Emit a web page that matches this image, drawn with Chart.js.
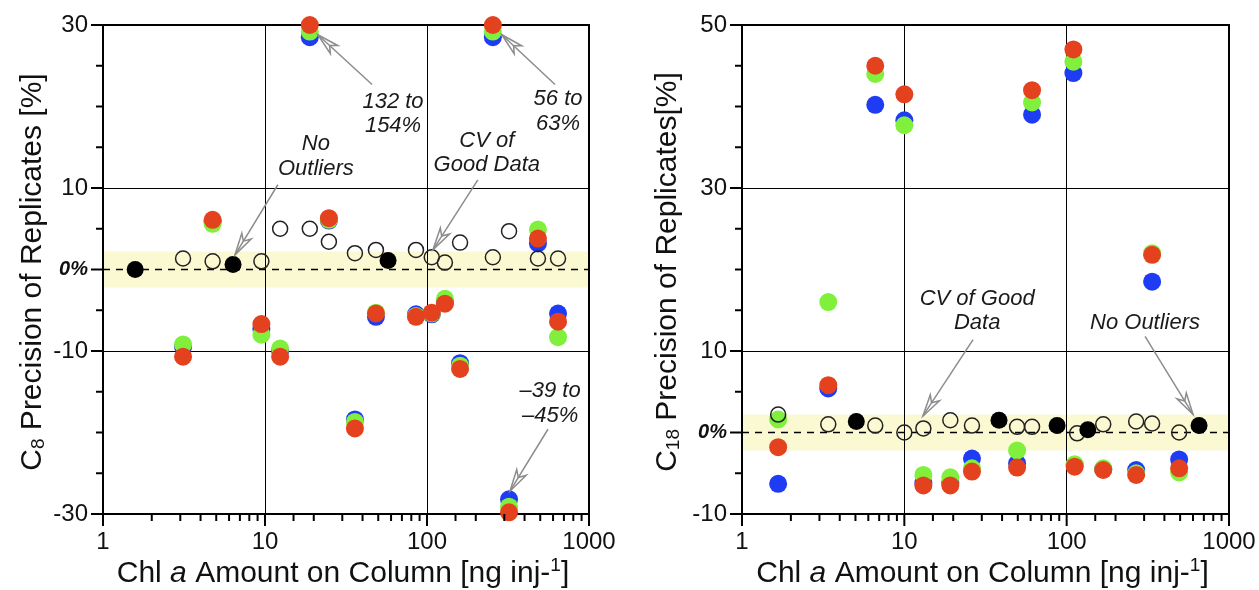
<!DOCTYPE html>
<html>
<head>
<meta charset="utf-8">
<title>Precision of replicates</title>
<script src="https://cdn.jsdelivr.net/npm/chart.js@4.4.1/dist/chart.umd.min.js"></script>
<style>
  body { margin: 0; background: #fff; overflow: hidden; }
  #wrap { position: relative; width: 1259px; height: 590px; }
  canvas { position: absolute; top: 0; }
  #c8Chart { left: 0; }
  #c18Chart { left: 630px; }
</style>
</head>
<body>
<div id="wrap">
  <canvas id="c8Chart" width="630" height="590"></canvas>
  <canvas id="c18Chart" width="629" height="590"></canvas>
</div>
<script>
const FONT = '"Liberation Sans", Arial, Helvetica, sans-serif';
const BLUE = "#1f3cf5";
const GREEN = "#80f03c";
const RED = "#e4421f";

// x tick labels (log axis, decades only)
const amountTicks = [1, 10, 100, 1000];

// C8 panel: replicates with outliers (blue / green / red)
const c8Amount = [3.12, 4.75, 9.5, 12.4, 18.9, 24.8, 35.9, 48.4, 85.5, 107, 129, 160, 255, 321, 484, 644];
const c8Blue  = [-9.5, 5.9, -7.3, -10.0, 28.5, 6.0, -18.4, -5.8, -5.5, -5.5, -4.0, -11.5, 28.5, -28.2, 3.2, -5.4];
const c8Green = [-9.2, 5.6, -8.0, -9.7, 29.2, 6.1, -18.7, -5.3, -5.7, -5.4, -3.6, -11.8, 29.2, -29.1, 4.9, -8.3];
const c8Red   = [-10.7, 6.1, -6.7, -10.7, 30.0, 6.3, -19.5, -5.4, -5.8, -5.3, -4.2, -12.2, 30.0, -29.8, 3.8, -6.4];
// CV of good data (open circles)
const c8Good = [1.35, 1.0, 1.0, 5.0, 5.0, 3.4, 2.0, 2.4, 2.4, 1.5, 0.85, 3.3, 1.5, 4.7, 1.35, 1.35];
// no outliers (filled black)
const c8CleanAmount = [1.58, 6.35, 57.5];
const c8Clean = [0.0, 0.6, 1.1];

// C18 panel
const c18Amount = [1.67, 3.4, 6.62, 10, 13.1, 19.2, 26.1, 49.5, 61.2, 110, 112, 168, 268, 336, 493];
const c18Blue  = [-6.3, 5.4, 40.2, 38.3, -6.2, -6.2, -3.2, -3.8, 39.0, 44.1, -4.0, -4.5, -4.6, 18.5, -3.3];
const c18Green = [1.6, 16.0, 44.0, 37.7, -5.2, -5.5, -4.4, -2.2, 40.5, 45.5, -3.9, -4.4, -5.0, 22.0, -4.9];
const c18Red   = [-1.8, 5.8, 45.0, 41.5, -6.5, -6.5, -4.8, -4.3, 42.0, 47.0, -4.2, -4.6, -5.2, 21.8, -4.4];
const c18GoodAmount = [1.67, 3.4, 6.62, 10, 13.1, 19.2, 26.1, 49.5, 61.2, 116, 168, 268, 336, 493];
const c18Good = [2.2, 1.0, 0.85, 0.0, 0.5, 1.5, 0.85, 0.7, 0.7, -0.1, 1.0, 1.35, 1.1, 0.0];
const c18CleanAmount = [5.06, 38.3, 87.3, 135, 654];
const c18Clean = [1.35, 1.5, 0.85, 0.35, 0.85];

const bandHalf = 2.2; // +/- range of the yellow band

function pts(xs, ys) {
    return xs.map((x, i) => ({ x: x, y: ys[i] }));
}

function makeDatasets(amount, blue, green, red, goodAmount, good, cleanAmount, clean) {
    // dataset 0 is drawn on top
    return [
        { label: "No outliers", data: pts(cleanAmount, clean), pointRadius: 8.5, backgroundColor: "#000", borderWidth: 0 },
        { label: "CV of good data", data: pts(goodAmount, good), pointRadius: 7.5, backgroundColor: "rgba(0,0,0,0)", borderColor: "#222", borderWidth: 1.5 },
        { label: "Replicate 3", data: pts(amount, red), pointRadius: 9, backgroundColor: RED, borderWidth: 0 },
        { label: "Replicate 2", data: pts(amount, green), pointRadius: 9, backgroundColor: GREEN, borderWidth: 0 },
        { label: "Replicate 1", data: pts(amount, blue), pointRadius: 9, backgroundColor: BLUE, borderWidth: 0 },
    ].map(d => Object.assign({ clip: false, showLine: false }, d));
}

function richWidth(ctx, parts) {
    let w = 0;
    parts.forEach(p => { ctx.font = p.font; w += ctx.measureText(p.text).width; });
    return w;
}

function drawRich(ctx, parts, x, y) {
    ctx.textAlign = "left";
    let cx = x - richWidth(ctx, parts) / 2;
    parts.forEach(p => {
        ctx.font = p.font;
        ctx.fillText(p.text, cx, y + (p.dy || 0));
        cx += ctx.measureText(p.text).width;
    });
}

function drawArrow(ctx, x1, y1, x2, y2) {
    const ang = Math.atan2(y2 - y1, x2 - x1);
    const c = Math.cos(ang), s = Math.sin(ang);
    const L = 22, W = 5.5;
    ctx.beginPath();
    ctx.moveTo(x1, y1);
    ctx.lineTo(x2, y2);
    ctx.stroke();
    const bx = x2 - L * c, by = y2 - L * s;
    ctx.beginPath();
    ctx.moveTo(x2, y2);
    ctx.lineTo(bx - W * s, by + W * c);
    ctx.lineTo(bx + 6 * c, by + 6 * s);
    ctx.lineTo(bx + W * s, by - W * c);
    ctx.closePath();
    ctx.stroke();
}

const decor = {
    id: "decor",
    beforeDraw(chart) {
        const { ctx, chartArea: a, scales: { y } } = chart;
        ctx.save();
        ctx.fillStyle = "#fbf9d2";
        const top = y.getPixelForValue(bandHalf), bot = y.getPixelForValue(-bandHalf);
        ctx.fillRect(a.left, top, a.right - a.left, bot - top);
        ctx.restore();
    },
    beforeDatasetsDraw(chart) {
        const { ctx, chartArea: a, scales: { y } } = chart;
        ctx.save();
        // zero line
        ctx.strokeStyle = "#000";
        ctx.lineWidth = 1.5;
        ctx.setLineDash([7, 6]);
        const py = y.getPixelForValue(0);
        ctx.beginPath();
        ctx.moveTo(a.left, py);
        ctx.lineTo(a.right, py);
        ctx.stroke();
        ctx.setLineDash([]);
        // frame
        ctx.lineWidth = 2;
        ctx.strokeRect(a.left, a.top, a.right - a.left, a.bottom - a.top);
        ctx.restore();
    },
    afterDraw(chart, args, opts) {
        const { ctx, chartArea: a, scales: { x, y } } = chart;
        ctx.save();
        // tick marks
        ctx.strokeStyle = "#000";
        ctx.lineWidth = 2;
        y.ticks.forEach(t => {
            const py = y.getPixelForValue(t.value);
            const len = t.label !== "" ? 12 : 7;
            ctx.beginPath(); ctx.moveTo(a.left - len, py); ctx.lineTo(a.left, py); ctx.stroke();
        });
        x.ticks.forEach(t => {
            const px = x.getPixelForValue(t.value);
            const len = t.label !== "" ? 12 : 7;
            ctx.beginPath(); ctx.moveTo(px, a.bottom); ctx.lineTo(px, a.bottom + len); ctx.stroke();
        });

        // axis titles
        ctx.fillStyle = "#111";
        ctx.textBaseline = "alphabetic";
        drawRich(ctx, opts.xTitle, (a.left + a.right) / 2 - 3, 582);
        ctx.save();
        ctx.translate(opts.yTitleX, 272);
        ctx.rotate(-Math.PI / 2);
        ctx.textBaseline = "middle";
        drawRich(ctx, opts.yTitle, 0, 0);
        ctx.restore();

        // annotations
        ctx.fillStyle = "#1a1a1a";
        ctx.font = "italic 22px " + FONT;
        ctx.textAlign = "center";
        ctx.textBaseline = "middle";
        opts.notes.forEach(n => {
            const px = x.getPixelForValue(n.x), py = y.getPixelForValue(n.y);
            const lh = 24.5;
            n.lines.forEach((line, i) => {
                ctx.fillText(line, px, py + (i - (n.lines.length - 1) / 2) * lh);
            });
        });
        ctx.strokeStyle = "#8c8c8c";
        ctx.lineWidth = 1.5;
        opts.arrows.forEach(ar => {
            drawArrow(ctx,
                x.getPixelForValue(ar.from[0]), y.getPixelForValue(ar.from[1]),
                x.getPixelForValue(ar.to[0]), y.getPixelForValue(ar.to[1]));
        });
        ctx.restore();
    }
};

function xTitleParts() {
    const f = "30px " + FONT;
    return [
        { text: "Chl ", font: f },
        { text: "a", font: "italic " + f },
        { text: " Amount on Column [ng inj-", font: f },
        { text: "1", font: "19px " + FONT, dy: -11 },
        { text: "]", font: f },
    ];
}

function yTitleParts(sub, rest) {
    const f = "30px " + FONT;
    return [
        { text: "C", font: f },
        { text: sub, font: "19px " + FONT, dy: 6 },
        { text: rest, font: f },
    ];
}

function makeChart(canvasId, cfg) {
    const ctx = document.getElementById(canvasId).getContext("2d");
    return new Chart(ctx, {
        type: "scatter",
        data: { datasets: cfg.datasets },
        plugins: [decor],
        options: {
            responsive: false,
            animation: false,
            events: [],
            layout: { padding: { left: 0, right: cfg.padRight, top: 25, bottom: 0 } },
            plugins: {
                legend: { display: false },
                tooltip: { enabled: false },
                decor: { xTitle: xTitleParts(), yTitle: cfg.yTitle, yTitleX: cfg.yTitleX, notes: cfg.notes, arrows: cfg.arrows },
            },
            scales: {
                x: {
                    type: "logarithmic",
                    min: 1,
                    max: 1000,
                    afterFit: s => { s.height = 76; s.paddingLeft = 0; s.paddingRight = 0; },
                    border: { display: true, color: "#000", width: 2 },
                    grid: {
                        drawTicks: false,
                        lineWidth: 1,
                        color: c => c.tick && (c.tick.value === 10 || c.tick.value === 100) ? "#000" : "rgba(0,0,0,0)",
                    },
                    ticks: {
                        autoSkip: false,
                        maxRotation: 0,
                        padding: 14,
                        color: "#111",
                        font: { family: FONT, size: 24 },
                        callback: v => amountTicks.includes(v) ? String(v) : "",
                    },
                },
                y: {
                    min: cfg.yMin,
                    max: cfg.yMax,
                    afterFit: s => { s.width = cfg.yWidth; s.paddingTop = 0; s.paddingBottom = 0; },
                    border: { display: true, color: "#000", width: 2 },
                    grid: {
                        drawTicks: false,
                        lineWidth: 1,
                        color: c => c.tick && cfg.yGrid.includes(c.tick.value) ? "#000" : "rgba(0,0,0,0)",
                    },
                    ticks: {
                        stepSize: 5,
                        padding: 15,
                        color: "#111",
                        font: c => c.tick && c.tick.value === 0
                            ? { family: FONT, size: 20, style: "italic", weight: "bold" }
                            : { family: FONT, size: 24 },
                        callback: v => v === 0 ? "0%" : ((v - cfg.yMin) % 20 === 0 ? String(v) : ""),
                    },
                },
            },
        },
    });
}

makeChart("c8Chart", {
    datasets: makeDatasets(c8Amount, c8Blue, c8Green, c8Red, c8Amount, c8Good, c8CleanAmount, c8Clean),
    yMin: -30, yMax: 30, yGrid: [-10, 10],
    yWidth: 103, padRight: 41, yTitleX: 33,
    yTitle: yTitleParts("8", " Precision of Replicates [%]"),
    notes: [
        { x: 61.7, y: 19.1, lines: ["132 to", "154%"] },
        { x: 644, y: 19.4, lines: ["56 to", "63%"] },
        { x: 20.6, y: 13.9, lines: ["No", "Outliers"] },
        { x: 234, y: 14.3, lines: ["CV of", "Good Data"] },
        { x: 575, y: -16.4, lines: ["\u201339 to", "\u201345%"] },
    ],
    arrows: [
        { from: [45.8, 22.7], to: [21.2, 28.8] },
        { from: [617, 22.7], to: [290, 28.8] },
        { from: [12.0, 10.4], to: [6.53, 1.8] },
        { from: [206, 11.0], to: [109, 2.45] },
        { from: [558, -19.6], to: [325, -27.2] },
    ],
});

makeChart("c18Chart", {
    datasets: makeDatasets(c18Amount, c18Blue, c18Green, c18Red, c18GoodAmount, c18Good, c18CleanAmount, c18Clean),
    yMin: -10, yMax: 50, yGrid: [10, 30],
    yWidth: 112, padRight: 30, yTitleX: 38,
    yTitle: yTitleParts("18", " Precision of Replicates[%]"),
    notes: [
        { x: 28.1, y: 14.9, lines: ["CV of Good", "Data"] },
        { x: 304, y: 13.4, lines: ["No Outliers"] },
    ],
    arrows: [
        { from: [26.5, 11.4], to: [13.0, 2.0] },
        { from: [304, 11.8], to: [601, 2.2] },
    ],
});
</script>
</body>
</html>
